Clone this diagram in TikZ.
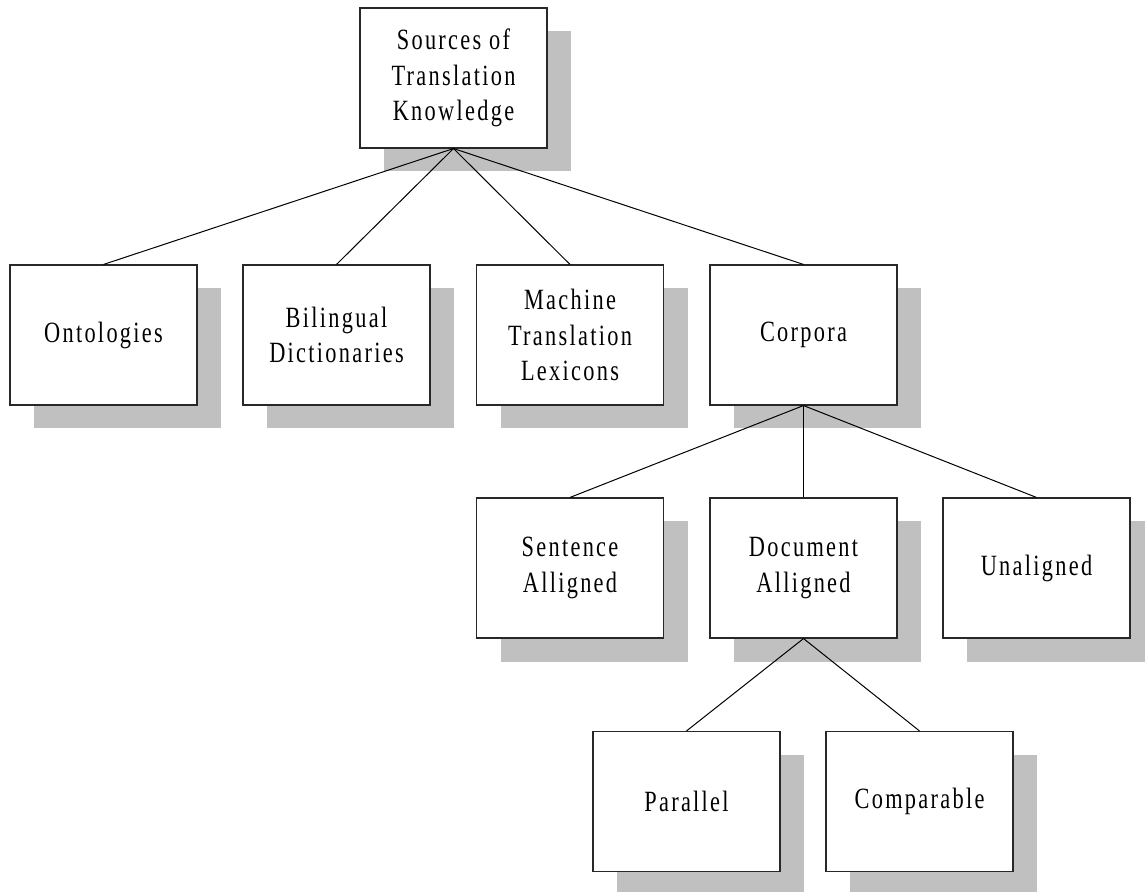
\documentclass[tikz,border=0pt]{standalone}
\usepackage{fontspec}
\setmainfont{Liberation Serif}[FakeStretch=0.76,LetterSpace=7.8]
\usetikzlibrary{shadows}
\definecolor{shadowgray}{RGB}{192,192,192}
\definecolor{boxline}{RGB}{40,40,40}
\tikzset{
  srcbox/.style={draw=boxline, line width=0.55pt, fill=white,
    minimum width=93.5pt, minimum height=70pt, inner sep=0pt,
    align=center, font=\fontsize{14.7}{17.9}\selectfont,
    drop shadow={shadow xshift=12pt, shadow yshift=-11.75pt, fill=shadowgray, opacity=1}},
  link/.style={draw=black, line width=0.5pt}
}
\begin{document}
\begin{tikzpicture}[x=0.5pt,y=-0.5pt]
\useasboundingbox (0,0) rectangle (1145,892);
\node[srcbox] (root) at (453.5,78) {Sources of\\Translation\\Knowledge};
\node[srcbox] (ont) at (103.5,335) {Ontologies};
\node[srcbox] (bil) at (336.5,335) {Bilingual\\Dictionaries};
\node[srcbox] (mt) at (570,335) {Machine\\Translation\\Lexicons};
\node[srcbox] (corp) at (803.5,335) {Corpora};
\node[srcbox] (sent) at (570,568) {Sentence\\Alligned};
\node[srcbox] (doc) at (803.5,568) {Document\\Alligned};
\node[srcbox] (unal) at (1036.5,568) {Unaligned};
\node[srcbox] (par) at (686.5,801.5) {Parallel};
\node[srcbox] (comp) at (919.5,801.5) {Comparable};
\draw[link] (root.south) -- (ont.north);
\draw[link] (root.south) -- (bil.north);
\draw[link] (root.south) -- (mt.north);
\draw[link] (root.south) -- (corp.north);
\draw[link] (corp.south) -- (sent.north);
\draw[link] (corp.south) -- (doc.north);
\draw[link] (corp.south) -- (unal.north);
\draw[link] (doc.south) -- (par.north);
\draw[link] (doc.south) -- (comp.north);
\end{tikzpicture}
\end{document}
